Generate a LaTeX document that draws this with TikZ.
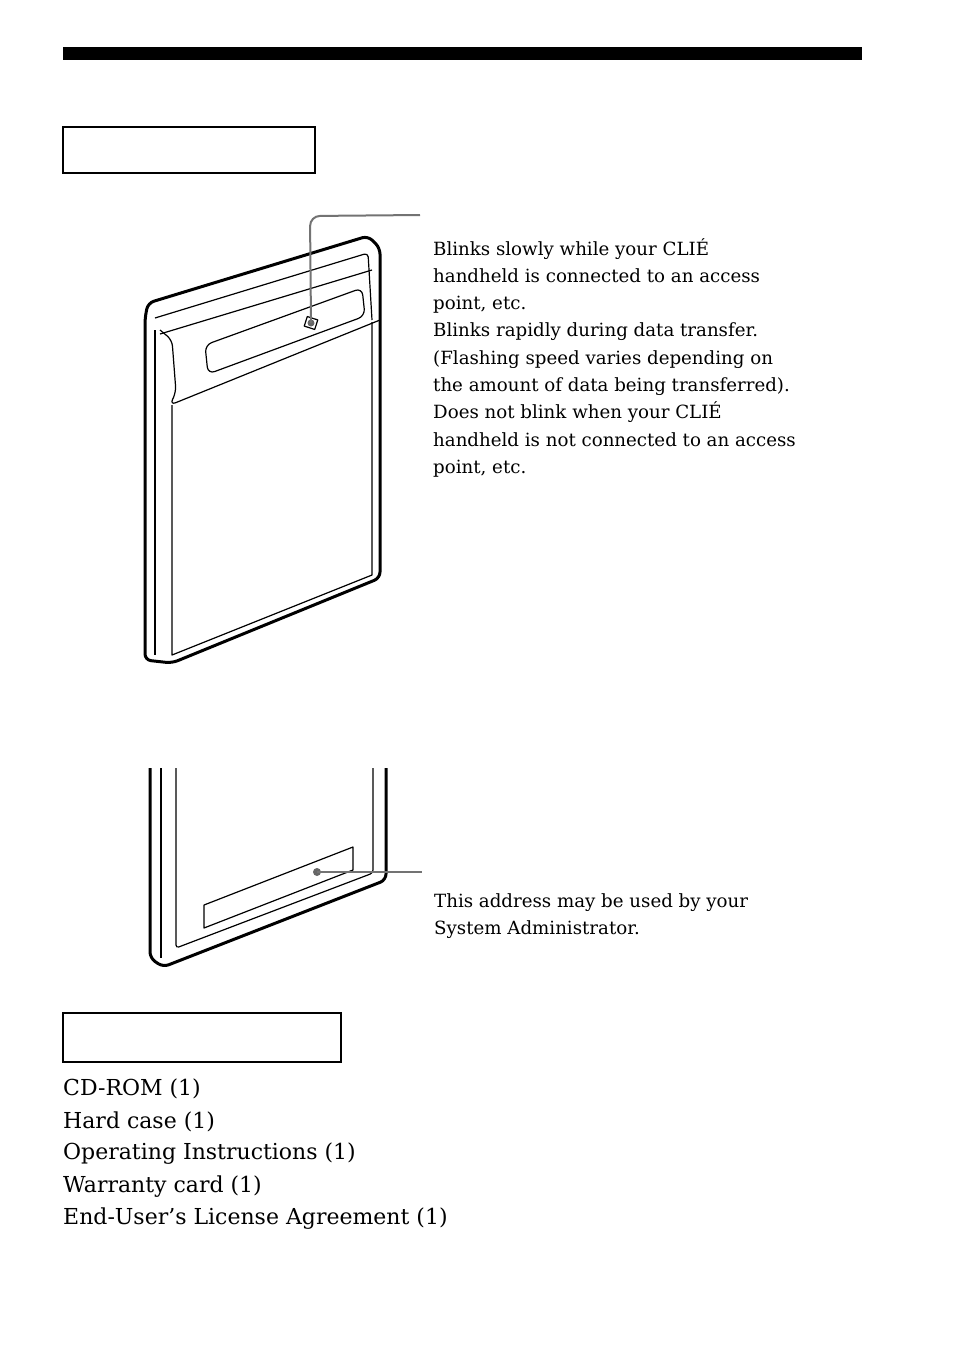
\documentclass[tikz,border=0pt]{standalone}
\usepackage{fontspec}
\setmainfont{DejaVu Serif}
\usepackage{tikz}

\begin{document}
\begin{tikzpicture}[x=1pt, y=-1pt]
    \tikzset{outline/.style={line width=3pt, line join=round, rounded corners=6pt},
             thin line/.style={line width=1.2pt, line join=round},
             leader/.style={draw=black!55, line width=2pt, rounded corners=10pt},
             note/.style={anchor=north west, align=left, inner sep=0pt, font=\fontsize{18.2}{27.3}\selectfont},
             item/.style={anchor=west, inner sep=0pt, font=\fontsize{22}{30}\selectfont},
             headbox/.style={draw, line width=1.2pt}}
    \useasboundingbox (0,0) rectangle (954,1345);

    % heading bar and boxes
    \fill (63,47) rectangle (862,60);
    \draw[headbox] (63,127) rectangle (315,173);
    \draw[headbox] (63,1013) rectangle (341,1062);

    % card, front
    \draw[outline] (145,660) -- (145,318) -- (148,303) -- (368,236) -- (380,248) -- (380,578) -- (172,663) -- cycle;
    \draw[thin line, rounded corners=4pt] (155,318) -- (368,253) -- (372,320);
    \draw[thin line] (160,334) -- (372,270);
    \draw[thin line, rounded corners=6pt] (160,330) -- (172,340) -- (176,392) -- (170,405) -- (380,320);
    \draw[thin line] (172,405) -- (172,655) -- (372,575) -- (372,322);
    \draw[thin line] (155,330) -- (155,655);
    \draw[thin line, rounded corners=7pt] (205,345) -- (362,288) -- (365,316) -- (208,374) -- cycle;
    \node[draw, thin line, minimum width=11pt, minimum height=10pt, inner sep=0pt, rotate=-18] (led) at (311,323) {};
    \fill[black!60] (led.center) circle (3.5pt);
    \coordinate (ledtip) at (420,215);
    \draw[leader] (led.center) -- (310,216) -- (ledtip);

    \node[note] (ledtext) at (433,238) {Blinks slowly while your CLI\'E\\handheld is connected to an access\\point, etc.\\Blinks rapidly during data transfer.\\(Flashing speed varies depending on\\the amount of data being transferred).\\Does not blink when your CLI\'E\\handheld is not connected to an access\\point, etc.};

    % card, back
    \draw[outline] (150,768) -- (150,958) -- (163,967) -- (386,880) -- (386,768);
    \draw[thin line] (161,768) -- (161,958);
    \draw[thin line, rounded corners=3pt] (176,768) -- (176,948) -- (373,873) -- (373,768);
    \draw[thin line] (204,905) -- (204,928) -- (353,870) -- (353,847) -- cycle;
    \fill[black!60] (317,872) circle (4pt) coordinate (addr);
    \coordinate (addrtip) at (422,872);
    \draw[leader] (addr) -- (addrtip);

    \node[note] (addrtext) at (434,893) {This address may be used by your\\System Administrator.};

    % contents list
    \foreach \t [count=\i from 0] in {CD-ROM (1), Hard case (1), Operating Instructions (1), Warranty card (1), End-User's License Agreement (1)}
        \node[item] (it\i) at (63,1089+32.5*\i) {\t};
\end{tikzpicture}
\end{document}
